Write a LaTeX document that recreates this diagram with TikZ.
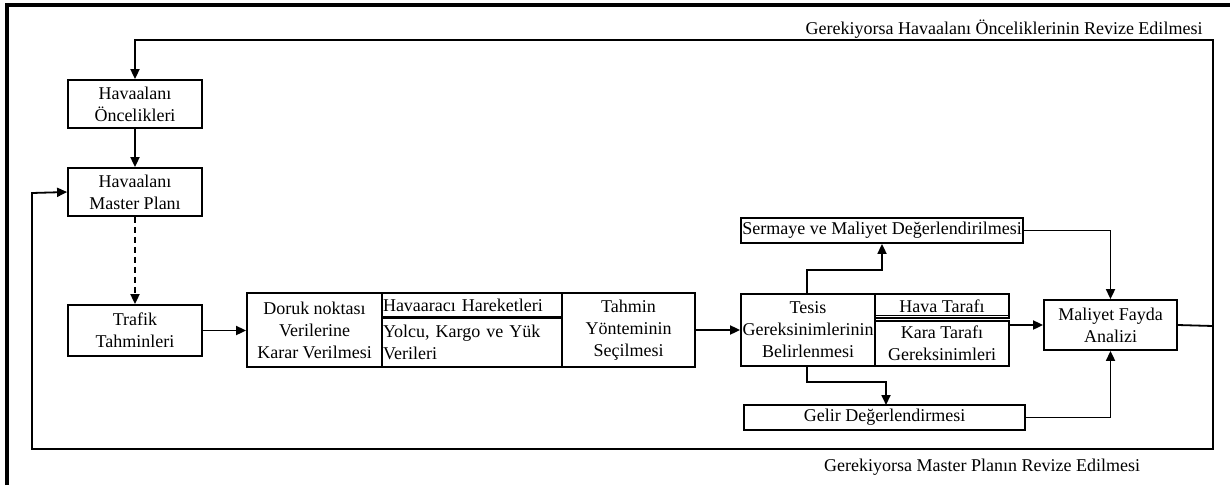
\documentclass[tikz,border=0pt]{standalone}
\usepackage{fontspec}
\setmainfont{Liberation Serif}
\usetikzlibrary{arrows.meta}
\begin{document}
\begin{tikzpicture}[x=1pt,y=-1pt,
  >={Triangle[length=10pt,width=9pt]},
  box/.style={draw,line width=1.8pt,inner sep=0pt,align=center,
    font=\fontsize{18}{22}\selectfont},
  conn/.style={line width=1.8pt},
  lbl/.style={inner sep=0pt,font=\fontsize{18}{22}\selectfont}]
\useasboundingbox (0,0) rectangle (1230,485);
\fill[white] (0,0) rectangle (1230,485);
% outer frame (cropped)
\draw[line width=3.2pt] (7,485) -- (7,5) -- (1230,5);
% nodes
\node[box,minimum width=134pt,minimum height=48pt] (onc) at (135,104) {Havaalanı\\Öncelikleri};
\node[box,minimum width=134pt,minimum height=48pt] (mp) at (135,192) {Havaalanı\\Master Planı};
\node[box,minimum width=134pt,minimum height=51pt] (traf) at (135,330.5) {Trafik\\Tahminleri};
\node[box,minimum width=135pt,minimum height=74pt] (doruk) at (314.5,330) {Doruk noktası\\Verilerine\\Karar Verilmesi};
\node[box,minimum width=180pt,minimum height=24pt,align=left,text width=178pt] (hh) at (472,305) {Havaaracı Hareketleri};
\node[box,minimum width=180pt,minimum height=50pt,align=left,text width=178pt] (ykv) at (472,342) {Yolcu, Kargo ve Yük\\Verileri};
\node[box,minimum width=133pt,minimum height=74pt] (tahmin) at (628.5,330) {Tahmin\\Yönteminin\\Seçilmesi};
\node[box,minimum width=134pt,minimum height=72pt] (tesis) at (808,330) {Tesis\\Gereksinimlerinin\\Belirlenmesi};
\node[box,minimum width=134pt,minimum height=24pt] (hava) at (942,306) {Hava Tarafı};
\node[box,minimum width=134pt,minimum height=45pt] (kara) at (942,343.5) {Kara Tarafı\\Gereksinimleri};
\node[box,minimum width=282pt,minimum height=25pt] (serm) at (882,230.5) {Sermaye ve Maliyet Değerlendirilmesi};
\node[box,minimum width=281pt,minimum height=25pt] (gelir) at (884.5,417.5) {Gelir Değerlendirmesi};
\node[box,minimum width=133pt,minimum height=50pt] (mal) at (1110.5,325) {Maliyet Fayda\\Analizi};
% double separators
\draw[line width=1.8pt] (hh.south west) -- (hh.south east);
\draw[line width=1.2pt] ([yshift=3.2pt]hava.south west) -- ([yshift=3.2pt]hava.south east);
% labels
\node[lbl] (lt) at (1004,29) {Gerekiyorsa Havaalanı Önceliklerinin Revize Edilmesi};
\node[lbl] (lb) at (982,467) {Gerekiyorsa Master Planın Revize Edilmesi};
% connector coordinates
\coordinate (rj) at (1213,326);
% connectors
\draw[conn,->] (onc) -- (mp);
\draw[conn,->,dash pattern=on 6pt off 4pt] (mp) -- (traf);
\draw[conn,->] (traf.east) -- (traf.east -| doruk.west);
\draw[conn,->] (tahmin.east) -- (tahmin.east -| tesis.west);
\draw[conn,->] (kara.east |- mal.west) -- (mal.west);
\draw[conn,->] (807,294) -- (807,270) -- (882,270) -- (serm.south);
\draw[conn,->] (807,366) -- (807,382) -- (886,382) -- (886,405);
\draw[conn,->] (serm.east) -| (mal.north);
\draw[conn,->] (gelir.east) -| (mal.south);
\draw[conn] (mal.east) -- (rj);
\draw[conn,->] (rj) -- (1213,40) -- (135,40) -- (onc.north);
\draw[conn,->] (rj) -- (1213,449) -- (32,449) -- (32,193) -- (mp.west);
\end{tikzpicture}
\end{document}
